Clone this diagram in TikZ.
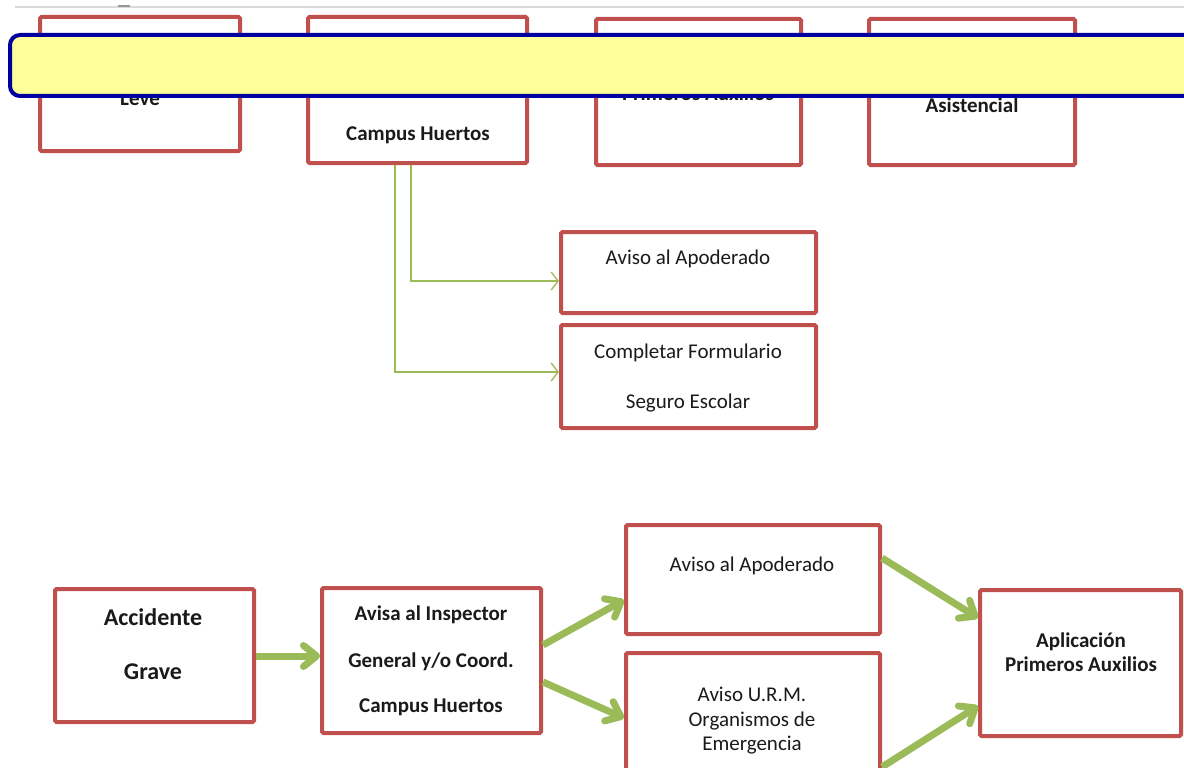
\documentclass[tikz,border=0pt]{standalone}
\usepackage{fontspec}
\setmainfont{Carlito}
\usetikzlibrary{arrows.meta,calc}
\definecolor{boxred}{HTML}{C0504D}
\definecolor{arrgreen}{HTML}{9BBB59}
\definecolor{barfill}{HTML}{FFFF99}
\definecolor{barblue}{HTML}{0000A0}
\definecolor{txt}{HTML}{1A1A1A}
\begin{document}
\begin{tikzpicture}[x=1pt,y=-1pt,
  box/.style={draw=boxred, line width=4pt, fill=white, rounded corners=1.5pt, inner sep=0pt, outer sep=0pt, anchor=north west},
  lbl/.style={font=\fontsize{21}{25}\selectfont, text=txt, inner sep=0pt, anchor=base},
  blbl/.style={lbl, font=\fontsize{21}{25}\selectfont\bfseries},
  biglbl/.style={lbl, font=\fontsize{24}{28}\selectfont\bfseries},
  thickarrow/.style={draw=arrgreen, line width=7pt, -{Straight Barb[round,length=13pt,width=21pt]}},
  thinarrow/.style={draw=arrgreen, line width=1.3pt, -{Straight Barb[length=7pt,width=18pt]}},
  barstyle/.style={draw=barblue, fill=barfill, line width=4pt, rounded corners=10pt, inner sep=0pt, outer sep=0pt, anchor=north west}]
\path[use as bounding box] (0,0) rectangle (1184,768);
\clip (0,0) rectangle (1184,768);
\fill[white] (0,0) rectangle (1184,768);
% top rule
\draw[gray!30, line width=1.2pt] (15,7) -- (1184,7);
\draw[gray!80, line width=1.5pt] (118,6) -- (130,6);

% top row boxes
\node[box, minimum width=200pt, minimum height=134pt] (b1) at (40,17) {};
\node[box, minimum width=219pt, minimum height=146pt] (b2) at (308,17) {};
\node[box, minimum width=205pt, minimum height=146pt] (b3) at (596,19) {};
\node[box, minimum width=206pt, minimum height=146pt] (b4) at (869,19) {};
\node[blbl] (t1) at (140,106) {Leve};
\node[blbl] (t2a) at (418,91) {General y/o Coord.};
\node[blbl] (t2b) at (418,140) {Campus Huertos};
\node[blbl] (t3) at (698,100) {Primeros Auxilios};
\node[blbl] (t4) at (972,113) {Asistencial};
\draw[thickarrow] ($(b1.north east)+(0,76)$) -- ($(b2.north west)+(0,55)$);
\draw[thickarrow] ($(b2.north east)+(0,76)$) -- ($(b3.north west)+(0,53)$);
\draw[thickarrow] ($(b3.north east)+(0,76)$) -- ($(b4.north west)+(0,53)$);

% middle boxes
\node[box, minimum width=255pt, minimum height=81pt] (b5) at (561,232) {};
\node[box, minimum width=255pt, minimum height=103pt] (b6) at (561,325) {};
\node[lbl] (t5) at (688,264) {Aviso al Apoderado};
\node[lbl] (t6a) at (688,358) {Completar Formulario};
\node[lbl] (t6b) at (688,408) {Seguro Escolar};
\draw[thinarrow] ($(b2.south west)+(103,2)$) |- ($(b5.north west)+(-2,49)$);
\draw[thinarrow] ($(b2.south west)+(87,2)$) |- ($(b6.north west)+(-2,47)$);

% bottom boxes
\node[box, minimum width=199pt, minimum height=133pt] (b7) at (55,589) {};
\node[box, minimum width=219pt, minimum height=145pt] (b8) at (322,588) {};
\node[box, minimum width=254pt, minimum height=109pt] (b9) at (626,525) {};
\node[box, minimum width=254pt, minimum height=140pt] (b10) at (626,653) {};
\node[box, minimum width=201pt, minimum height=146pt] (b11) at (980,590) {};
\node[biglbl] (t7a) at (153,625) {Accidente};
\node[biglbl] (t7b) at (153,679) {Grave};
\node[blbl] (t8a) at (431,620) {Avisa al Inspector};
\node[blbl] (t8b) at (431,667) {General y/o Coord.};
\node[blbl] (t8c) at (431,712) {Campus Huertos};
\node[lbl] (t9) at (752,571) {Aviso al Apoderado};
\node[lbl] (t10a) at (752,701) {Aviso U.R.M.};
\node[lbl] (t10b) at (752,726) {Organismos de};
\node[lbl] (t10c) at (752,750) {Emergencia};
\node[blbl] (t11a) at (1081,647) {Aplicación};
\node[blbl] (t11b) at (1081,671) {Primeros Auxilios};

\draw[thickarrow] ($(b7.north east)+(2,67)$) -- ($(b8.north west)+(-2,68)$);
\draw[thickarrow] ($(b8.north east)+(2,57)$) -- ($(b9.north west)+(-2,75)$);
\draw[thickarrow] ($(b8.north east)+(2,94)$) -- ($(b10.north west)+(-2,65)$);
\draw[thickarrow] ($(b9.north east)+(2,33)$) -- ($(b11.north west)+(-2,28)$);
\draw[thickarrow] ($(b10.north east)+(2,114)$) -- ($(b11.north west)+(-2,116)$);

% yellow banner
\node[barstyle, minimum width=1200pt, minimum height=61pt] (bar) at (10,35) {};
\end{tikzpicture}
\end{document}
